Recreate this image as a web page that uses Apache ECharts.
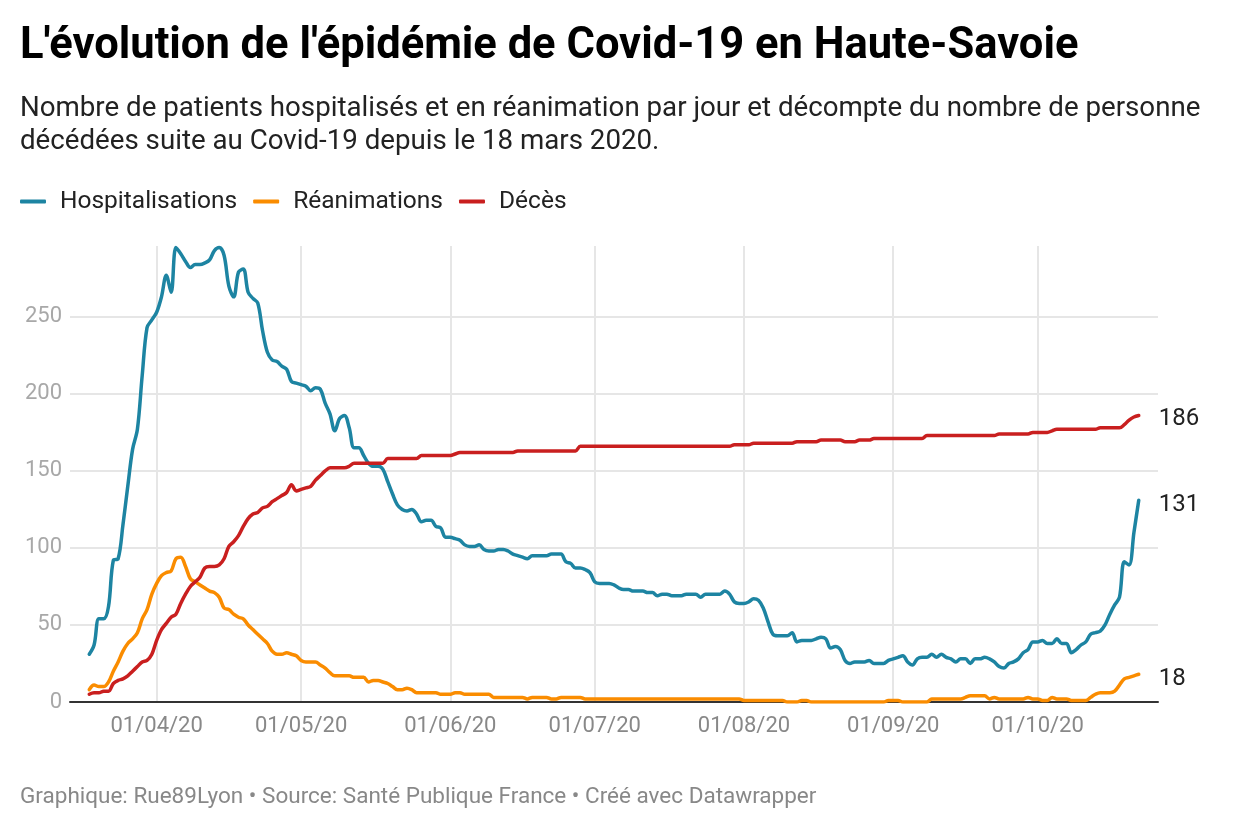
<!DOCTYPE html>
<html>
<head>
<meta charset="utf-8">
<script src="https://cdn.jsdelivr.net/npm/echarts@6/dist/echarts.min.js"></script>
<style>
html,body{margin:0;padding:0;background:#fff;}
#chart{width:1240px;height:840px;}
</style>
</head>
<body>
<div id="chart"></div>
<script>
// First day of data (18 mars 2020), one value per day up to 22 octobre 2020
const firstDay = [2020, 3, 18];
const padDays = 4;

const seriesNames = ['Hospitalisations', 'Réanimations', 'Décès'];

const hospitalisations = [
  31,37,54,54,62,92,93,115,140,164,
  177,212,243,248,253,263,277,266,295,291,
  286,282,284,284,285,287,293,295,290,270,
  263,279,281,266,262,259,241,227,222,221,
  218,216,208,207,206,205,202,204,203,194,
  187,176,184,186,178,165,165,160,155,153,
  153,151,143,135,128,125,124,125,122,117,
  118,118,114,113,107,107,106,105,102,101,
  101,102,99,98,98,99,99,98,96,95,
  94,93,95,95,95,95,96,96,96,91,
  90,87,87,86,84,78,77,77,77,76,
  74,73,73,72,72,72,71,71,69,70,
  70,69,69,69,70,70,70,68,70,70,
  70,70,72,70,65,64,64,65,67,66,
  61,52,44,43,43,43,45,39,40,40,
  40,41,42,41,35,36,34,27,25,26,
  26,26,27,25,25,25,27,28,29,30,
  26,24,28,29,29,31,29,31,29,28,
  26,28,28,25,28,28,29,28,26,23,
  22,25,26,28,32,34,39,39,40,38,
  38,41,38,38,32,34,37,39,44,45,
  46,50,57,63,68,91,89,110,131
];

const reanimations = [
  8,11,10,10,13,20,26,33,38,41,
  45,54,60,70,77,82,84,85,93,94,
  88,80,78,76,74,72,71,68,61,60,
  57,55,54,50,47,44,41,38,33,31,
  31,32,31,30,27,26,26,26,24,22,
  19,17,17,17,17,16,16,16,13,14,
  14,13,12,10,8,8,9,8,6,6,
  6,6,6,5,5,5,6,6,5,5,
  5,5,5,5,3,3,3,3,3,3,
  3,2,3,3,3,3,2,2,3,3,
  3,3,3,2,2,2,2,2,2,2,
  2,2,2,2,2,2,2,2,2,2,
  2,2,2,2,2,2,2,2,2,2,
  2,2,2,2,2,2,1,1,1,1,
  1,1,1,1,1,0,0,0,1,1,
  0,0,0,0,0,0,0,0,0,0,
  0,0,0,0,0,0,1,1,1,0,
  0,0,0,0,0,2,2,2,2,2,
  2,2,3,4,4,4,4,2,3,2,
  2,2,2,2,2,3,2,2,1,1,
  3,2,2,2,1,1,1,1,3,5,
  6,6,6,7,11,15,16,17,18
];

const deces = [
  5,6,6,7,7,12,14,15,17,20,
  23,26,27,31,40,47,51,55,57,64,
  70,75,78,81,87,88,88,89,93,101,
  104,108,114,119,122,123,126,127,130,132,
  134,136,141,137,138,139,140,144,147,150,
  152,152,152,152,153,155,155,155,155,155,
  155,155,158,158,158,158,158,158,158,160,
  160,160,160,160,160,160,161,162,162,162,
  162,162,162,162,162,162,162,162,162,163,
  163,163,163,163,163,163,163,163,163,163,
  163,163,166,166,166,166,166,166,166,166,
  166,166,166,166,166,166,166,166,166,166,
  166,166,166,166,166,166,166,166,166,166,
  166,166,166,166,167,167,167,167,168,168,
  168,168,168,168,168,168,168,169,169,169,
  169,169,170,170,170,170,170,169,169,169,
  170,170,170,171,171,171,171,171,171,171,
  171,171,171,171,173,173,173,173,173,173,
  173,173,173,173,173,173,173,173,173,174,
  174,174,174,174,174,174,175,175,175,175,
  176,177,177,177,177,177,177,177,177,177,
  178,178,178,178,178,180,183,185,186
];

const yTicks = [0, 50, 100, 150, 200, 250];

const colors = ['#1d84a2', '#fa8c00', '#c91f1f'];

// ---- build categories (dates) ----
function pad2(n){ return (n < 10 ? '0' : '') + n; }
const nDays = hospitalisations.length;
const categories = [];
const base = Date.UTC(firstDay[0], firstDay[1] - 1, firstDay[2]);
for (let i = -padDays; i < nDays + padDays; i++) {
  const d = new Date(base + i * 86400000);
  categories.push(pad2(d.getUTCDate()) + '/' + pad2(d.getUTCMonth() + 1) + '/' + String(d.getUTCFullYear()).slice(2));
}
function padded(arr){
  const out = [];
  for (let i = 0; i < padDays; i++) out.push(null);
  arr.forEach(v => out.push(v));
  for (let i = 0; i < padDays; i++) out.push(null);
  return out;
}
const isMonthStart = (idx, val) => categories[idx].slice(0, 2) === '01';

const chart = echarts.init(document.getElementById('chart'), null, {renderer: 'canvas'});
const FONT = 'Roboto';

function lineSeries(name, data, color, labelOffset) {
  return {
    name: name,
    type: 'line',
    data: padded(data),
    showSymbol: false,
    symbol: 'none',
    smooth: 0.35,
    connectNulls: false,
    lineStyle: {width: 3.5, color: color, cap: 'round', join: 'round'},
    itemStyle: {color: color},
    emphasis: {disabled: true},
    z: 5,
    endLabel: {
      show: true,
      formatter: '{c}',
      fontFamily: FONT,
      fontSize: 24,
      color: '#222',
      distance: 20,
      offset: labelOffset
    },
    animation: false
  };
}

chart.setOption({
  animation: false,
  backgroundColor: '#fff',
  textStyle: {fontFamily: FONT},
  title: [
    {
      text: "L'évolution de l'épidémie de Covid-19 en Haute-Savoie",
      left: 20, top: 25, padding: 0,
      textStyle: {fontFamily: FONT, fontSize: 43.5, fontWeight: 'bold', color: '#000'}
    },
    {
      text: 'Nombre de patients hospitalisés et en réanimation par jour et décompte du nombre de personne\ndécédées suite au Covid-19 depuis le 18 mars 2020.',
      left: 20, top: 92, padding: 0,
      textStyle: {fontFamily: FONT, fontSize: 27.7, fontWeight: 'normal', color: '#222', lineHeight: 33.5}
    },
    {
      text: 'Graphique: Rue89Lyon • Source: Santé Publique France • Créé avec Datawrapper',
      left: 20, top: 786, padding: 0,
      textStyle: {fontFamily: FONT, fontSize: 22.5, fontWeight: 'normal', color: '#888'}
    }
  ],
  legend: {
    left: 20, top: 189, padding: 0,
    itemWidth: 26, itemHeight: 4, itemGap: 16,
    icon: 'roundRect',
    selectedMode: false,
    data: seriesNames,
    textStyle: {fontFamily: FONT, fontSize: 24.5, color: '#222', padding: [0, 0, 0, 9]}
  },
  grid: {left: 70, right: 82, top: 246, bottom: 138, containLabel: false},
  xAxis: {
    type: 'category',
    data: categories,
    boundaryGap: false,
    axisLine: {show: true, lineStyle: {color: '#333', width: 2}},
    axisTick: {show: false},
    axisLabel: {
      interval: isMonthStart,
      fontFamily: FONT, fontSize: 22, color: '#888', margin: 13
    },
    splitLine: {show: true, interval: isMonthStart, lineStyle: {color: '#e6e6e6', width: 2}}
  },
  yAxis: {
    type: 'value',
    min: 0,
    max: 296,
    interval: 50,
    axisLine: {show: false},
    axisTick: {show: false},
    axisLabel: {
      fontFamily: FONT, fontSize: 22, color: '#a8a8a8', margin: 8,
      showMaxLabel: false,
      formatter: v => (yTicks.indexOf(v) >= 0 ? String(v) : '')
    },
    splitLine: {show: true, showMaxLine: false, showMinLine: false, lineStyle: {color: '#e6e6e6', width: 2}}
  },
  series: [
    lineSeries(seriesNames[0], hospitalisations, colors[0], [0, 5]),
    lineSeries(seriesNames[1], reanimations, colors[1], [0, 5]),
    lineSeries(seriesNames[2], deces, colors[2], [0, 4])
  ]
});
</script>
</body>
</html>
